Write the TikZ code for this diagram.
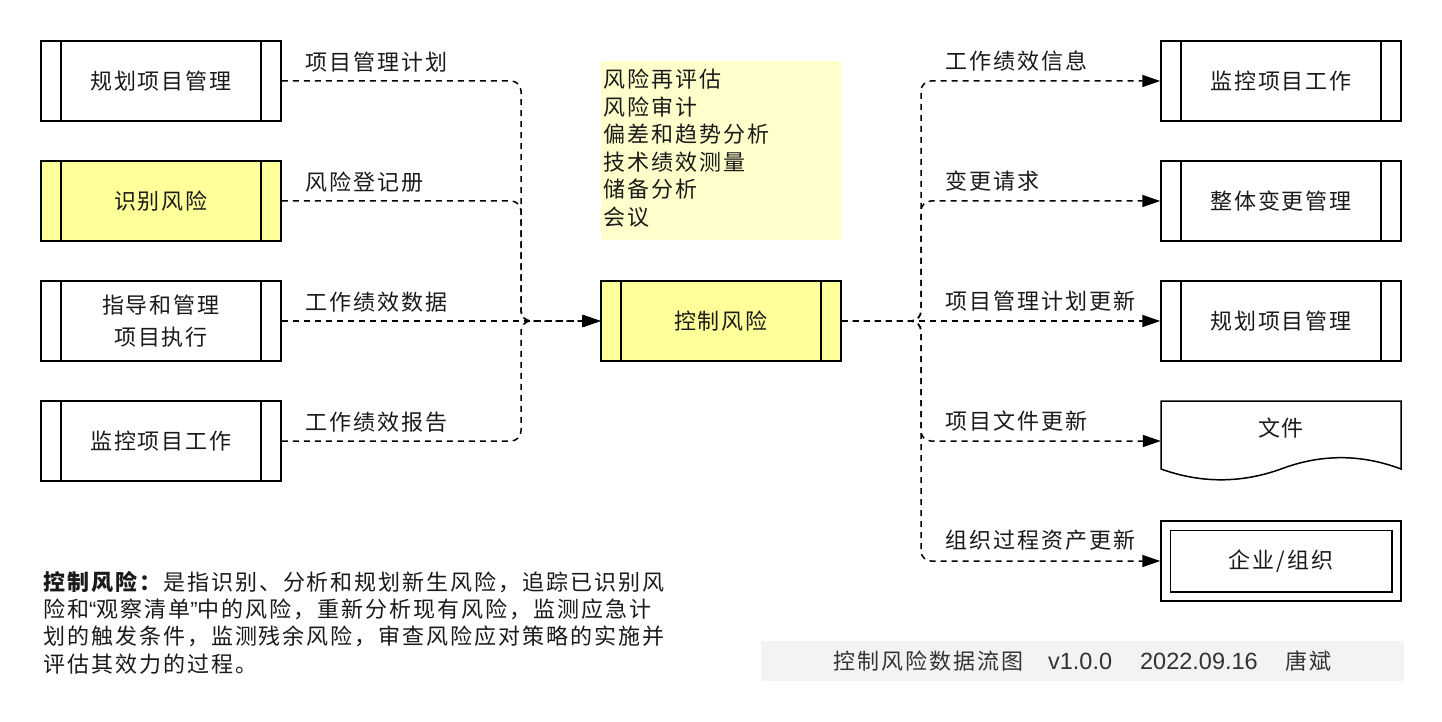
\documentclass[tikz,border=0pt]{standalone}
\usepackage{fontspec}
\setmainfont{Noto Sans CJK SC}[LetterSpace=9]
\newfontfamily\footlat{Liberation Sans}
\usetikzlibrary{arrows.meta,calc}
\definecolor{txt}{HTML}{1A1A1A}
\definecolor{procyellow}{HTML}{FFFF99}
\definecolor{noteyellow}{HTML}{FFFFCC}
\definecolor{footbg}{HTML}{F3F3F3}
\definecolor{foottxt}{HTML}{333333}
\begin{document}
\begin{tikzpicture}[x=1pt,y=-1pt,
  every node/.style={text=txt, font=\fontsize{22}{30}\selectfont},
  proc/.style={draw=black, line width=1.5pt, minimum width=240pt, minimum height=80pt, inner sep=0pt, align=center,
     path picture={\draw[line width=1.5pt] ([xshift=20pt]path picture bounding box.north west) -- ([xshift=20pt]path picture bounding box.south west);
                   \draw[line width=1.5pt] ([xshift=-20pt]path picture bounding box.north east) -- ([xshift=-20pt]path picture bounding box.south east);}},
  boxshape/.style={minimum width=240pt, minimum height=80pt, inner sep=0pt},
  flow/.style={draw=black, line width=1.5pt, dash pattern=on 6pt off 5pt, rounded corners=10pt, -{Triangle[length=18pt,width=12pt]}},
  lbl/.style={anchor=west, inner sep=0pt},
]
\useasboundingbox (0,0) rectangle (1442,722);
\fill[white] (0,0) rectangle (1442,722);

% left processes
\node[proc] (p1) at (161,81) {规划项目管理};
\node[proc, fill=procyellow] (p2) at (161,201) {识别风险};
\node[proc, font=\fontsize{22}{32}\selectfont] (p3) at (161,321) {指导和管理\\项目执行};
\node[proc] (p4) at (161,441) {监控项目工作};

% center process
\node[proc, fill=procyellow] (cr) at (721,321) {控制风险};

% notes
\node[fill=noteyellow, anchor=north west, minimum width=240pt, minimum height=179pt, text width=236pt, inner sep=2pt, align=left, font=\fontsize{22}{27.5}\selectfont] (notes) at (601,61) {风险再评估\\风险审计\\偏差和趋势分析\\技术绩效测量\\储备分析\\会议\rule[-7pt]{0pt}{0pt}};

% right processes
\node[proc] (r1) at (1281,81) {监控项目工作};
\node[proc] (r2) at (1281,201) {整体变更管理};
\node[proc] (r3) at (1281,321) {规划项目管理};

% document
\node[boxshape] (doc) at (1281,441) {};
\draw[line width=1.5pt] (1161,469) -- (1161,401) -- (1401,401) -- (1401,469) .. controls (1361,453.9) and (1321,453.9) .. (1281,469) .. controls (1241,483.4) and (1201,483.4) .. (1161,469) -- cycle;
\node (doctext) at (1281,428) {文件};

% organisation
\node[boxshape, draw=black, line width=1.5pt] (org) at (1281,561) {企业/组织};
\draw[line width=1.5pt] ($(org.north west)+(10,10)$) rectangle ($(org.south east)+(-10,-10)$);

% junctions
\coordinate (jl) at (521,321);
\coordinate (jr) at (921,321);

% left flows
\draw[flow] (p1.east) -| (jl) -- (cr.west);
\draw[flow] (p2.east) -| (jl) -- (cr.west);
\draw[flow] (p3.east) -- (cr.west);
\draw[flow] (p4.east) -| (jl) -- (cr.west);

% right flows
\draw[flow] (cr.east) -- (jr) |- (r1.west);
\draw[flow] (cr.east) -- (jr) |- (r2.west);
\draw[flow] (cr.east) -- (r3.west);
\draw[flow] (cr.east) -- (jr) |- (doc.west);
\draw[flow] (cr.east) -- (jr) |- (org.west);

% labels
\node[lbl] (l1) at (305,62) {项目管理计划};
\node[lbl] (l2) at (305,182) {风险登记册};
\node[lbl] (l3) at (305,302) {工作绩效数据};
\node[lbl] (l4) at (305,422) {工作绩效报告};
\node[lbl] (o1) at (945,61) {工作绩效信息};
\node[lbl] (o2) at (945,181) {变更请求};
\node[lbl] (o3) at (945,301) {项目管理计划更新};
\node[lbl] (o4) at (945,421) {项目文件更新};
\node[lbl] (o5) at (945,540) {组织过程资产更新};

% description
\node[anchor=north west, inner sep=0pt, align=left, font=\fontsize{22}{27.3}\selectfont] (desc) at (43,571) {\textbf{控制风险：}是指识别、分析和规划新生风险，追踪已识别风\\险和{\footlat “}观察清单{\footlat ”}中的风险，重新分析现有风险，监测应急计\\划的触发条件，监测残余风险，审查风险应对策略的实施并\\评估其效力的过程。};

% footer
\node[fill=footbg, minimum width=643pt, minimum height=40pt, inner sep=0pt, text=foottxt] (footer) at (1082.5,661) {控制风险数据流图\hspace{25pt}{\footlat\fontsize{23.5}{26}\selectfont v1.0.0\hspace{28pt}2022.09.16}\hspace{28pt}唐斌};
\end{tikzpicture}
\end{document}
